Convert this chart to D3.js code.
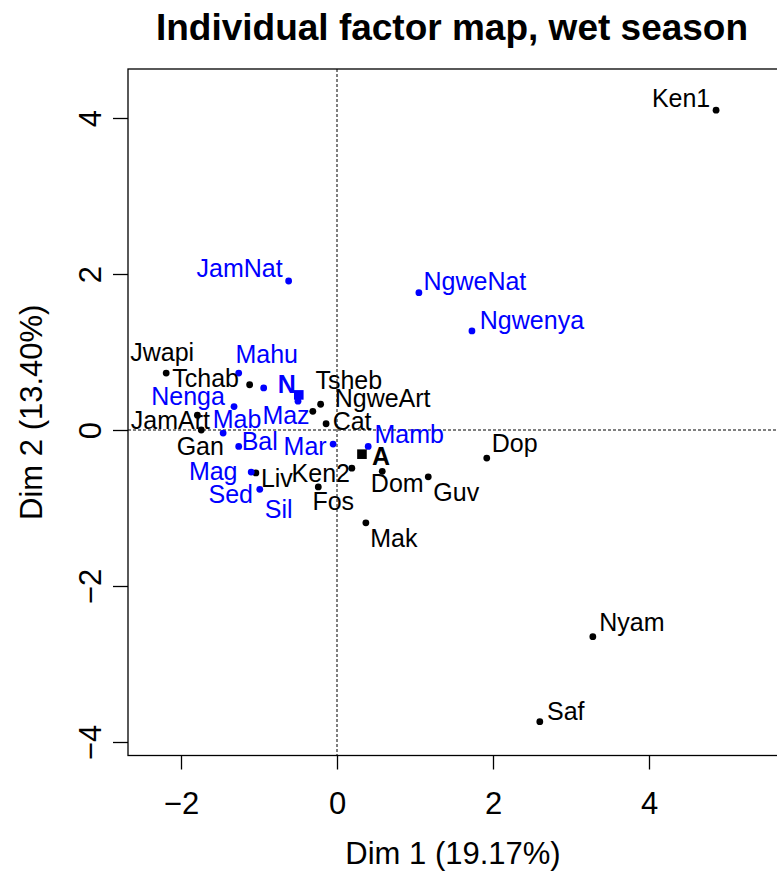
<!DOCTYPE html>
<html>
<head>
<meta charset="utf-8">
<script src="https://cdn.jsdelivr.net/npm/d3@7"></script>
<style>
  html, body { margin: 0; padding: 0; background: #fff; }
  svg { display: block; font-family: "Liberation Sans", Arial, Helvetica, sans-serif; }
</style>
</head>
<body>
<svg id="chart" width="777" height="871"></svg>
<script>
// ---- data ----
const names = ["Ken1","Jwapi","Tchab","JamArt","Gan","Tsheb","NgweArt","Cat","Ken2","Fos","Liv","Dom","Guv","Dop","Mak","Nyam","Saf",
               "JamNat","NgweNat","Ngwenya","Mahu","Nenga","Mab","Maz","Sil","Bal","Mar","Mag","Sed","Mamb"];
const dim1 = [4.86,-2.19,-1.12,-1.79,-1.74,-0.31,-0.21,-0.14,0.19,-0.24,-1.04,0.58,1.17,1.92,0.37,3.28,2.60,
              -0.62,1.05,1.73,-1.26,-1.32,-1.46,-0.50,-0.94,-1.26,-0.05,-1.10,-0.99,0.40];
const dim2 = [4.10,0.73,0.58,0.19,0.00,0.24,0.33,0.08,-0.49,-0.73,-0.55,-0.53,-0.60,-0.36,-1.19,-2.65,-3.74,
              1.91,1.76,1.27,0.73,0.30,-0.04,0.37,0.54,-0.21,-0.18,-0.54,-0.76,-0.21];
const group = ["A","A","A","A","A","A","A","A","A","A","A","A","A","A","A","A","A",
               "N","N","N","N","N","N","N","N","N","N","N","N","N"];
const meanLabels = ["N","A"];
const meanDim1 = [-0.49, 0.32];
const meanDim2 = [0.45, -0.31];
const xTicks = [-2, 0, 2, 4];
const yTicks = [-4, -2, 0, 2, 4];
const titleText = "Individual factor map, wet season";
const xTitle = "Dim 1 (19.17%)";
const yTitle = "Dim 2 (13.40%)";

// ---- layout ----
const colors = { A: "#000000", N: "#0000FF" };
const box = { left: 128, top: 69, right: 800, bottom: 755.5 };
const unit = 78, x0px = 337, y0px = 430;
// label placement (pixel offsets of label centre from point)
const labelOffset = {
  Ken1:[-35,-12], Jwapi:[-4,-21], Tchab:[-44,-7], JamArt:[-27,5], Gan:[-1,16], Tsheb:[36,-31],
  NgweArt:[62,-6], Cat:[26,-3], Ken2:[-31,5], Fos:[15,14], Liv:[21,5], Dom:[15,12], Guv:[28,15],
  Dop:[28,-15], Mak:[28,15], Nyam:[39,-15], Saf:[26,-11],
  JamNat:[-49,-13], NgweNat:[56,-12], Ngwenya:[60,-11], Mahu:[28,-19], Nenga:[-46,-11], Mab:[14,-14],
  Maz:[-12,14], Sil:[15,121], Bal:[21,-5], Mar:[-28,2], Mag:[-38,-1], Sed:[-29,5], Mamb:[41,-12]
};
const meanOffset = { N:[-12,-11], A:[19,2] };

const svg = d3.select("#chart");
const x = d3.scaleLinear()
  .domain([(box.left - x0px) / unit, (box.right - x0px) / unit])
  .range([box.left, box.right]);
const y = d3.scaleLinear()
  .domain([(y0px - box.bottom) / unit, (y0px - box.top) / unit])
  .range([box.bottom, box.top]);

// title
svg.append("text").attr("x", 452).attr("y", 40).attr("text-anchor", "middle")
  .attr("font-size", 37).attr("font-weight", "bold").text(titleText);

// box
svg.append("rect").attr("x", box.left).attr("y", box.top)
  .attr("width", box.right - box.left).attr("height", box.bottom - box.top)
  .attr("fill", "none").attr("stroke", "#000").attr("stroke-width", 1.3);

// zero lines
svg.append("line").attr("x1", x(0)).attr("x2", x(0)).attr("y1", box.top).attr("y2", box.bottom)
  .attr("stroke", "#000").attr("stroke-width", 1).attr("stroke-dasharray", "3,2");
svg.append("line").attr("x1", box.left).attr("x2", box.right).attr("y1", y(0)).attr("y2", y(0))
  .attr("stroke", "#000").attr("stroke-width", 1).attr("stroke-dasharray", "3,2");

// axes
const fmt = d3.format("d");
const gx = svg.append("g").attr("transform", `translate(0,${box.bottom})`)
  .call(d3.axisBottom(x).tickValues(xTicks).tickFormat(fmt).tickSize(14).tickSizeOuter(0).tickPadding(22));
gx.select(".domain").remove();
gx.selectAll(".tick line").attr("stroke-width", 1.3);
gx.selectAll(".tick text").attr("font-size", 31).attr("font-family", null).attr("dy", "0.71em").attr("fill", "#000");

const gy = svg.append("g").attr("transform", `translate(${box.left},0)`)
  .call(d3.axisLeft(y).tickValues(yTicks).tickFormat(fmt).tickSize(15).tickSizeOuter(0));
gy.select(".domain").remove();
gy.selectAll(".tick line").attr("stroke-width", 1.3);
gy.selectAll(".tick text")
  .attr("font-size", 31).attr("font-family", null).attr("fill", "#000")
  .attr("x", null).attr("dy", null)
  .attr("text-anchor", "middle")
  .attr("transform", `translate(${101 - box.left},0) rotate(-90)`);

// axis titles
svg.append("text").attr("x", 453).attr("y", 864).attr("text-anchor", "middle")
  .attr("font-size", 31).text(xTitle);
svg.append("text").attr("transform", `translate(42,${(box.top + box.bottom) / 2}) rotate(-90)`)
  .attr("text-anchor", "middle").attr("font-size", 31).text(yTitle);

// points
const pts = names.map((n, i) => ({ name: n, d1: dim1[i], d2: dim2[i], g: group[i] }));
svg.append("g").selectAll("circle").data(pts).join("circle")
  .attr("cx", d => x(d.d1)).attr("cy", d => y(d.d2)).attr("r", 3.4)
  .attr("fill", d => colors[d.g]);
svg.append("g").selectAll("text").data(pts).join("text")
  .attr("x", d => x(d.d1) + labelOffset[d.name][0])
  .attr("y", d => y(d.d2) + labelOffset[d.name][1])
  .attr("dy", "0.36em").attr("text-anchor", "middle").attr("font-size", 25)
  .attr("fill", d => colors[d.g]).text(d => d.name);

// category means
const means = meanLabels.map((l, i) => ({ name: l, d1: meanDim1[i], d2: meanDim2[i] }));
svg.append("g").selectAll("rect").data(means).join("rect")
  .attr("x", d => x(d.d1) - 4.8).attr("y", d => y(d.d2) - 4.8)
  .attr("width", 9.6).attr("height", 9.6).attr("fill", d => colors[d.name]);
svg.append("g").selectAll("text").data(means).join("text")
  .attr("x", d => x(d.d1) + meanOffset[d.name][0])
  .attr("y", d => y(d.d2) + meanOffset[d.name][1])
  .attr("dy", "0.36em").attr("text-anchor", "middle").attr("font-size", 25).attr("font-weight", "bold")
  .attr("fill", d => colors[d.name]).text(d => d.name);
</script>
</body>
</html>
